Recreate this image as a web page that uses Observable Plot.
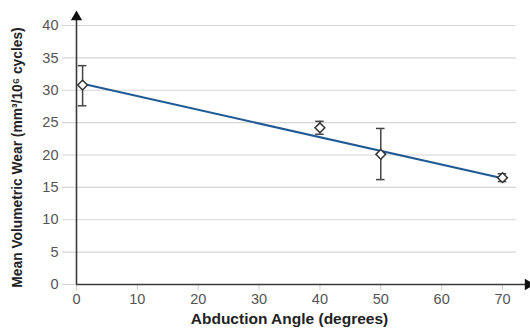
<!DOCTYPE html>
<html>
<head>
<meta charset="utf-8">
<script src="https://cdn.jsdelivr.net/npm/d3@7"></script>
<script src="https://cdn.jsdelivr.net/npm/@observablehq/plot@0.6"></script>
<style>
  body { margin: 0; background: #fff; }
  #chart svg { display: block; }
</style>
</head>
<body>
<div id="chart"></div>
<script>
// Data
const angles = [1, 40, 50, 70];
const wearMean = [30.8, 24.2, 20.1, 16.5];
const wearLow = [27.6, 23.2, 16.2, 15.9];
const wearHigh = [33.8, 25.2, 24.1, 17.1];
const fitX = [1, 70];
const fitY = [31.0, 16.4];
const xTicks = [0, 10, 20, 30, 40, 50, 60, 70];
const yTicks = [0, 5, 10, 15, 20, 25, 30, 35, 40];
const xTitle = "Abduction Angle (degrees)";
const yTitle = "Mean Volumetric Wear (mm³/10⁶ cycles)";

const points = angles.map((a, i) => ({x: a, y: wearMean[i], lo: wearLow[i], hi: wearHigh[i]}));
const fit = fitX.map((x, i) => ({x, y: fitY[i]}));

const capHalf = 0.7;
const font = "Liberation Sans, Arial, Helvetica, sans-serif";

const chart = Plot.plot({
  width: 530,
  height: 331,
  marginLeft: 76,
  marginRight: 28,
  marginTop: 25,
  marginBottom: 47,
  style: {fontFamily: font, background: "#fff"},
  x: {domain: [0, 70], axis: null},
  y: {domain: [0, 40], axis: null},
  marks: [
    // grid
    Plot.ruleY(yTicks, {x1: -2.3, x2: 72.3, stroke: "#d6d6d6", strokeWidth: 1.2}),
    // x ticks
    Plot.ruleX(xTicks, {x: d => d, y1: 0, y2: -1.0, stroke: "#cfcfcf", strokeWidth: 1}),
    // axes lines
    Plot.ruleY([0], {x1: 0, x2: 73.8, stroke: "#3a3a3a", strokeWidth: 1.6}),
    Plot.ruleX([0], {y1: 0, y2: 40.9, stroke: "#3a3a3a", strokeWidth: 1.6}),
    Plot.dot([{x: 74.2, y: 0}], {x: "x", y: "y", symbol: "triangle", r: 4.2, fill: "#111", stroke: null, rotate: 90}),
    Plot.dot([{x: 0, y: 41.3}], {x: "x", y: "y", symbol: "triangle", r: 4.2, fill: "#111", stroke: null}),
    // tick labels
    Plot.text(yTicks, {x: 0, y: d => d, text: d => String(d), textAnchor: "end", dx: -18, fontSize: 14.5, fill: "#555"}),
    Plot.text(xTicks, {x: d => d, y: 0, text: d => String(d), dy: 15, fontSize: 14.5, fill: "#555"}),
    // titles
    Plot.text([xTitle], {frameAnchor: "bottom", dy: 39, text: d => d, fontSize: 15.5, fontWeight: "bold", fill: "#222"}),
    Plot.text([yTitle], {frameAnchor: "left", textAnchor: "middle", dx: -59, dy: 2.5, rotate: -90, text: d => d, fontSize: 13.8, fontWeight: "bold", fill: "#222"}),
    // error bars
    Plot.ruleX(points, {x: "x", y1: "lo", y2: "hi", stroke: "#444", strokeWidth: 1.5}),
    Plot.ruleY(points, {y: "lo", x1: d => d.x - capHalf, x2: d => d.x + capHalf, stroke: "#444", strokeWidth: 1.5}),
    Plot.ruleY(points, {y: "hi", x1: d => d.x - capHalf, x2: d => d.x + capHalf, stroke: "#444", strokeWidth: 1.5}),
    // fit line
    Plot.line(fit, {x: "x", y: "y", stroke: "#1f5a96", strokeWidth: 2}),
    // points
    Plot.dot(points, {x: "x", y: "y", symbol: "diamond2", r: 4.4, fill: "#fff", stroke: "#333", strokeWidth: 1.5})
  ]
});
document.getElementById("chart").appendChild(chart);
</script>
</body>
</html>
